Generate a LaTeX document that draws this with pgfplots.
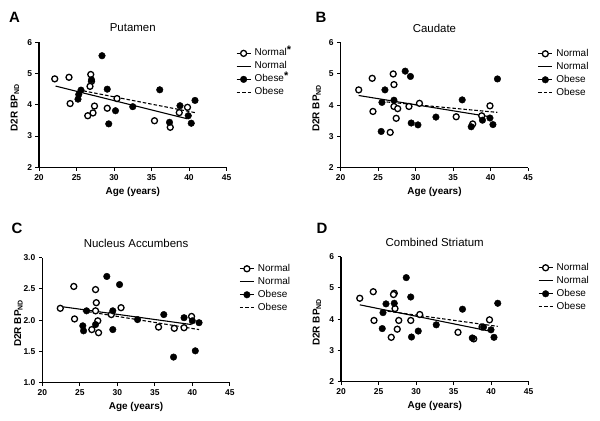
\documentclass[border=0pt]{standalone}
\usepackage{pgfplots}
\pgfplotsset{compat=1.18}
\usepackage{fontspec}
\setmainfont{Liberation Sans}
\setsansfont{Liberation Sans}

% legend symbols
\newcommand{\normalsym}{\addlegendimage{legend image code/.code={
  \draw[line width=1.1bp] (0bp,0bp) -- (14bp,0bp);
  \draw[line width=1.3bp, fill=white] (7bp,0bp) circle (3bp);}}}
\newcommand{\normalline}{\addlegendimage{legend image code/.code={
  \draw[line width=1.1bp] (0bp,0bp) -- (14bp,0bp);}}}
\newcommand{\obesesym}{\addlegendimage{legend image code/.code={
  \draw[line width=1.1bp] (0bp,0bp) -- (14bp,0bp);
  \fill (7bp,0bp) circle (3.3bp);}}}
\newcommand{\obeseline}{\addlegendimage{legend image code/.code={
  \draw[line width=1.1bp, dash pattern=on 3.5bp off 2bp] (0bp,0bp) -- (14bp,0bp);}}}
\newcommand{\sigstar}{\raisebox{2.5bp}{\fontsize{11}{11}\selectfont\bfseries *}}

\pgfplotsset{
  panel/.style={
    scale only axis, width=187.5bp, height=125bp,
    anchor=south west,
    axis lines*=left,
    xmin=20, xmax=45, xtick={20,25,...,45},
    tick align=outside, major tick length=3.5bp,
    tick style={black, line width=1bp},
    axis line style={line width=1.2bp},
    ticklabel style={font=\bfseries\fontsize{8.5}{9}\selectfont},
    /pgf/number format/assume math mode=true,
    xlabel={Age (years)},
    xlabel style={font=\bfseries\fontsize{10}{11}\selectfont,
      at={(axis description cs:0.5,0)}, anchor=base, yshift=-27bp},
    ylabel={D2R BP\textsubscript{ND}},
    ylabel style={font=\bfseries\fontsize{10}{11}\selectfont,
      at={(axis description cs:-0.128,0.476)}, anchor=center},
    title style={font=\fontsize{11.5}{13}\selectfont,
      at={(axis description cs:0.5,1)}, anchor=base, yshift=4.7bp},
    legend style={at={(axis description cs:1.05,0.965)}, anchor=north west,
      draw=none, fill=none, inner sep=0pt, row sep=0bp,
      font=\fontsize{10}{11}\selectfont,
      nodes={inner ysep=1.5bp, inner xsep=3.5bp, text height=7.5bp, text depth=2.5bp}},
    legend cell align=left,
  },
  nrm/.style={only marks, mark=*, mark size=3bp,
    mark options={fill=white, draw=black, line width=1.3bp}, forget plot},
  obs/.style={only marks, mark=*, mark size=3.3bp,
    mark options={fill=black, draw=black}, forget plot},
  nfit/.style={black, line width=1.1bp, forget plot},
  ofit/.style={black, line width=1.1bp, dash pattern=on 3.5bp off 2bp, forget plot},
}

\begin{document}
\begin{tikzpicture}
\path[use as bounding box] (0,0) rectangle (600bp,421bp);

% ---------- A: Putamen
\begin{axis}[panel, at={(39bp,253.7bp)}, title={Putamen},
  ymin=2, ymax=6, ytick={2,3,4,5,6}]
  \normalsym \addlegendentry{Normal\sigstar}
  \normalline \addlegendentry{Normal}
  \obesesym \addlegendentry{Obese\sigstar}
  \obeseline \addlegendentry{Obese}
  \addplot[nfit] coordinates {(22.2,4.60) (39.8,3.55)};
  \addplot[ofit] coordinates {(25.2,4.48) (40.8,3.75)};
  \addplot[nrm] coordinates {
    (22.1,4.83) (24.0,4.88) (24.15,4.04) (26.9,4.97) (27.0,4.75) (26.8,4.59)
    (26.5,3.65) (27.2,3.74) (27.4,3.96) (29.1,3.89) (30.4,4.20)
    (35.4,3.49) (37.5,3.28) (38.7,3.75) (39.8,3.92)};
  \addplot[obs] coordinates {
    (28.4,5.57) (27.0,4.80) (25.6,4.47) (25.3,4.33) (25.2,4.18)
    (29.1,4.50) (30.2,3.81) (29.3,3.39) (32.5,3.94) (36.1,4.48)
    (37.4,3.44) (38.8,3.97) (39.9,3.65) (40.3,3.41) (40.8,4.14)};
\end{axis}

% ---------- B: Caudate
\begin{axis}[panel, at={(340.7bp,253.3bp)}, title={Caudate},
  ymin=2, ymax=6, ytick={2,3,4,5,6}]
  \normalsym \addlegendentry{Normal}
  \normalline \addlegendentry{Normal}
  \obesesym \addlegendentry{Obese}
  \obeseline \addlegendentry{Obese}
  \addplot[nfit] coordinates {(22.4,4.31) (39.9,3.63)};
  \addplot[ofit] coordinates {(25.4,4.12) (40.9,3.77)};
  \addplot[nrm] coordinates {
    (22.4,4.49) (24.2,4.86) (24.3,3.80) (27.0,5.00) (27.1,4.66)
    (27.1,3.96) (27.6,3.89) (27.4,3.58) (26.6,3.13) (29.1,3.96)
    (30.5,4.06) (35.4,3.63) (37.6,3.40) (38.8,3.66) (39.9,3.98)};
  \addplot[obs] coordinates {
    (28.6,5.09) (29.3,4.92) (25.9,4.49) (25.5,4.09) (27.1,4.16)
    (25.4,3.16) (29.4,3.43) (30.3,3.37) (32.7,3.62) (36.2,4.17)
    (37.4,3.31) (38.9,3.52) (39.9,3.59) (40.3,3.38) (40.9,4.84)};
\end{axis}

% ---------- C: Nucleus Accumbens
\begin{axis}[panel, at={(42.3bp,38.3bp)}, title={Nucleus Accumbens},
  ymin=1, ymax=3, ytick={1,1.5,...,3},
  yticklabel style={/pgf/number format/.cd, fixed, fixed zerofill, precision=1}]
  \normalsym \addlegendentry{Normal}
  \normalline \addlegendentry{Normal}
  \obesesym \addlegendentry{Obese}
  \obeseline \addlegendentry{Obese}
  \addplot[nfit] coordinates {(22.4,2.22) (39.9,1.93)};
  \addplot[ofit] coordinates {(25.4,2.15) (40.9,1.85)};
  \addplot[nrm] coordinates {
    (22.4,2.19) (24.2,2.54) (24.3,2.02) (27.1,2.49) (27.2,2.28)
    (27.1,2.15) (27.4,1.99) (26.6,1.85) (27.5,1.80) (29.2,2.09)
    (30.5,2.20) (35.5,1.89) (37.6,1.87) (38.9,1.88) (39.9,2.06)};
  \addplot[obs] coordinates {
    (28.6,2.70) (30.3,2.57) (25.9,2.15) (25.4,1.91) (25.5,1.83)
    (27.1,1.93) (29.4,2.15) (29.4,1.85) (32.7,2.01) (36.2,2.09)
    (37.5,1.41) (38.9,2.04) (40.0,1.99) (40.4,1.51) (40.9,1.96)};
\end{axis}

% ---------- D: Combined Striatum
\begin{axis}[panel, at={(341bp,39.3bp)}, title={Combined Striatum},
  ymin=2, ymax=6, ytick={2,3,4,5,6}]
  \normalsym \addlegendentry{Normal}
  \normalline \addlegendentry{Normal}
  \obesesym \addlegendentry{Obese}
  \obeseline \addlegendentry{Obese}
  \addplot[nfit] coordinates {(22.5,4.46) (39.8,3.62)};
  \addplot[ofit] coordinates {(25.5,4.28) (40.9,3.77)};
  \addplot[nrm] coordinates {
    (22.5,4.67) (24.3,4.88) (24.4,3.96) (27.1,4.83) (27.0,4.79)
    (27.2,4.34) (27.7,3.96) (27.5,3.68) (26.7,3.42) (29.3,3.96)
    (30.5,4.15) (35.6,3.58) (37.7,3.37) (38.8,3.75) (39.8,3.98)};
  \addplot[obs] coordinates {
    (28.7,5.33) (29.3,4.71) (26.0,4.49) (27.1,4.51) (25.6,4.21)
    (25.5,3.70) (29.4,3.43) (30.3,3.62) (32.7,3.82) (36.2,4.32)
    (37.5,3.40) (39.0,3.75) (40.0,3.66) (40.4,3.42) (40.9,4.51)};
\end{axis}

% panel letters
\node[font=\bfseries\fontsize{15}{16}\selectfont] at (14.5bp,404bp) {A};
\node[font=\bfseries\fontsize{15}{16}\selectfont] at (321bp,404bp) {B};
\node[font=\bfseries\fontsize{15}{16}\selectfont] at (17bp,193bp) {C};
\node[font=\bfseries\fontsize{15}{16}\selectfont] at (322bp,193bp) {D};
\end{tikzpicture}
\end{document}
